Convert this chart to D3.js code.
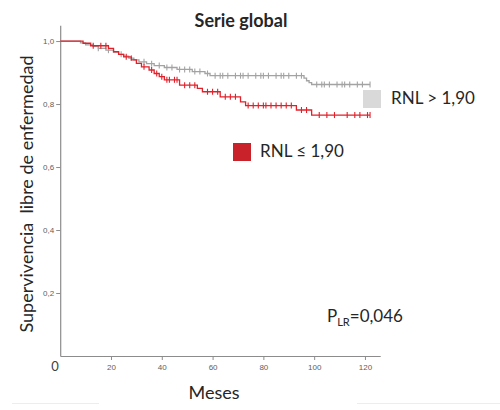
<!DOCTYPE html>
<html>
<head>
<meta charset="utf-8">
<script src="https://cdn.jsdelivr.net/npm/d3@7"></script>
<style>
  body { margin: 0; background: #fff; }
  svg { display: block; }
</style>
</head>
<body>
<div id="chart"></div>
<script>
// Kaplan-Meier steps: [month, survival]
const stepsHigh = [
  [0, 1.0], [8, 0.994], [10, 0.988], [13, 0.983], [15, 0.977], [18, 0.971],
  [21, 0.965], [23, 0.958], [25, 0.952], [27, 0.946], [29, 0.940], [31, 0.934],
  [34, 0.928], [37, 0.922], [41, 0.916], [46, 0.910], [52, 0.903], [57, 0.897],
  [59, 0.890], [96, 0.882], [97, 0.874], [98, 0.868], [99, 0.862]
];
const stepsLow = [
  [0, 1.0], [9, 0.993], [12, 0.985], [19, 0.977], [21, 0.966], [23, 0.958],
  [25, 0.950], [28, 0.940], [30, 0.929], [32, 0.918], [35, 0.908], [37, 0.897],
  [39, 0.887], [41, 0.877], [47, 0.860], [54, 0.850], [56, 0.839], [63, 0.823],
  [71, 0.807], [73, 0.795], [93, 0.781], [99, 0.765]
];
// censored observations (months)
const censorHigh = [15, 19, 24, 28, 33, 36, 39, 42, 44, 47, 49, 51, 53, 55, 58, 61, 63, 64,
  66, 69, 71, 72, 74, 77, 79, 80, 82, 85, 87, 88, 90, 93, 95, 101, 103, 104, 106, 109,
  111, 112, 114, 117, 119, 122];
const censorLow = [13, 16, 18, 26, 33, 36, 38, 40, 42, 43, 45, 46, 49, 51, 53, 58, 60, 62,
  65, 67, 69, 74, 76, 78, 80, 81, 83, 85, 87, 89, 91, 95, 97, 102, 105, 108, 113, 116,
  118, 121, 122];
const lastMonth = 122;

const xTicks = [20, 40, 60, 80, 100, 120];
const yTicks = [0.2, 0.4, 0.6, 0.8, 1.0];

const series = [
  { name: 'RNL > 1,90', steps: stepsHigh, censor: censorHigh, line: '#a3a3a3', box: '#d9d9d9' },
  { name: 'RNL \u2264 1,90', steps: stepsLow, censor: censorLow, line: '#e2202a', box: '#c9222b' }
];

const width = 500, height = 410;

const svg = d3.select('#chart').append('svg')
  .attr('width', width)
  .attr('height', height)
  .style('font-family', 'Lato, sans-serif');

// scales
const x = d3.scaleLinear([0, 126], [60.2, 380.2]);
const y = d3.scaleLinear([0, 1.05], [356, 25.3]);

// axes
const axisX = svg.append('g')
  .attr('transform', `translate(0, ${y(0)})`)
  .call(d3.axisBottom(x).tickValues(xTicks).tickSize(4).tickSizeOuter(0));
const axisY = svg.append('g')
  .attr('transform', `translate(${x(0)}, 0)`)
  .call(d3.axisLeft(y).tickValues(yTicks).tickSize(4).tickSizeOuter(0)
    .tickFormat(d => d3.format('.1f')(d).replace('.', ',')));

[axisX, axisY].forEach(g => {
  g.select('.domain').attr('stroke', '#8c8c8c').attr('stroke-width', 1.2);
  g.selectAll('.tick line').attr('stroke', '#8c8c8c');
  g.selectAll('.tick text')
    .attr('fill', '#606060')
    .style('font-family', '"Liberation Sans", Arial, sans-serif')
    .style('font-size', '8px');
});
axisX.selectAll('.tick text').attr('dy', '0.9em');
axisY.selectAll('.tick text').attr('x', -6);

// the lone origin label
svg.append('text')
  .attr('x', 55).attr('y', 371)
  .attr('text-anchor', 'middle')
  .attr('fill', '#404040')
  .style('font-size', '13px')
  .text('0');

// survival at time t
function survivalAt(steps, t) {
  let s = steps[0][1];
  for (const [tt, v] of steps) if (tt <= t) s = v;
  return s;
}

const line = d3.line()
  .x(d => x(d[0]))
  .y(d => y(d[1]))
  .curve(d3.curveStepAfter);

// draw each curve + censor marks
series.forEach(s => {
  const pts = s.steps.concat([[lastMonth, s.steps[s.steps.length - 1][1]]]);
  svg.append('path')
    .datum(pts)
    .attr('fill', 'none')
    .attr('stroke', s.line)
    .attr('stroke-width', 1.3)
    .attr('d', line);

  svg.append('g').selectAll('line')
    .data(s.censor)
    .join('line')
    .attr('x1', d => x(d)).attr('x2', d => x(d))
    .attr('y1', d => y(survivalAt(s.steps, d)) - 3)
    .attr('y2', d => y(survivalAt(s.steps, d)) + 3)
    .attr('stroke', s.line)
    .attr('stroke-width', 1.1);
});

// legend
const legendPos = [
  { bx: 363, by: 90, tx: 391, ty: 104 },
  { bx: 233, by: 143, tx: 260, ty: 157 }
];
series.forEach((s, i) => {
  const p = legendPos[i];
  svg.append('rect')
    .attr('x', p.bx).attr('y', p.by)
    .attr('width', 18).attr('height', 18)
    .attr('fill', s.box);
  svg.append('text')
    .attr('x', p.tx).attr('y', p.ty)
    .attr('fill', '#262626')
    .style('font-size', '17px')
    .text(s.name);
});

// title
svg.append('text')
  .attr('x', 241).attr('y', 27)
  .attr('text-anchor', 'middle')
  .attr('fill', '#262626')
  .style('font-size', '18px')
  .style('font-weight', 'bold')
  .text('Serie global');

// axis labels
svg.append('text')
  .attr('x', 214).attr('y', 399)
  .attr('text-anchor', 'middle')
  .attr('fill', '#262626')
  .style('font-size', '18px')
  .text('Meses');

svg.append('text')
  .attr('transform', 'translate(33, 194) rotate(-90)')
  .attr('text-anchor', 'middle')
  .attr('fill', '#262626')
  .style('font-size', '18px')
  .style('white-space', 'pre')
  .text('Supervivencia  libre de enfermedad');

// log-rank p value
const pText = svg.append('text')
  .attr('x', 327).attr('y', 322)
  .attr('fill', '#262626')
  .style('font-size', '17px');
pText.append('tspan').text('P');
pText.append('tspan').attr('dy', 4).style('font-size', '11px').text('LR');
pText.append('tspan').attr('dy', -4).text('=0,046');

// faint scan lines at the bottom edge
svg.append('line').attr('x1', 12).attr('x2', 99).attr('y1', 403.5).attr('y2', 403.5)
  .attr('stroke', '#ededed');
svg.append('line').attr('x1', 357).attr('x2', 500).attr('y1', 403.5).attr('y2', 403.5)
  .attr('stroke', '#ededed');
</script>
</body>
</html>
